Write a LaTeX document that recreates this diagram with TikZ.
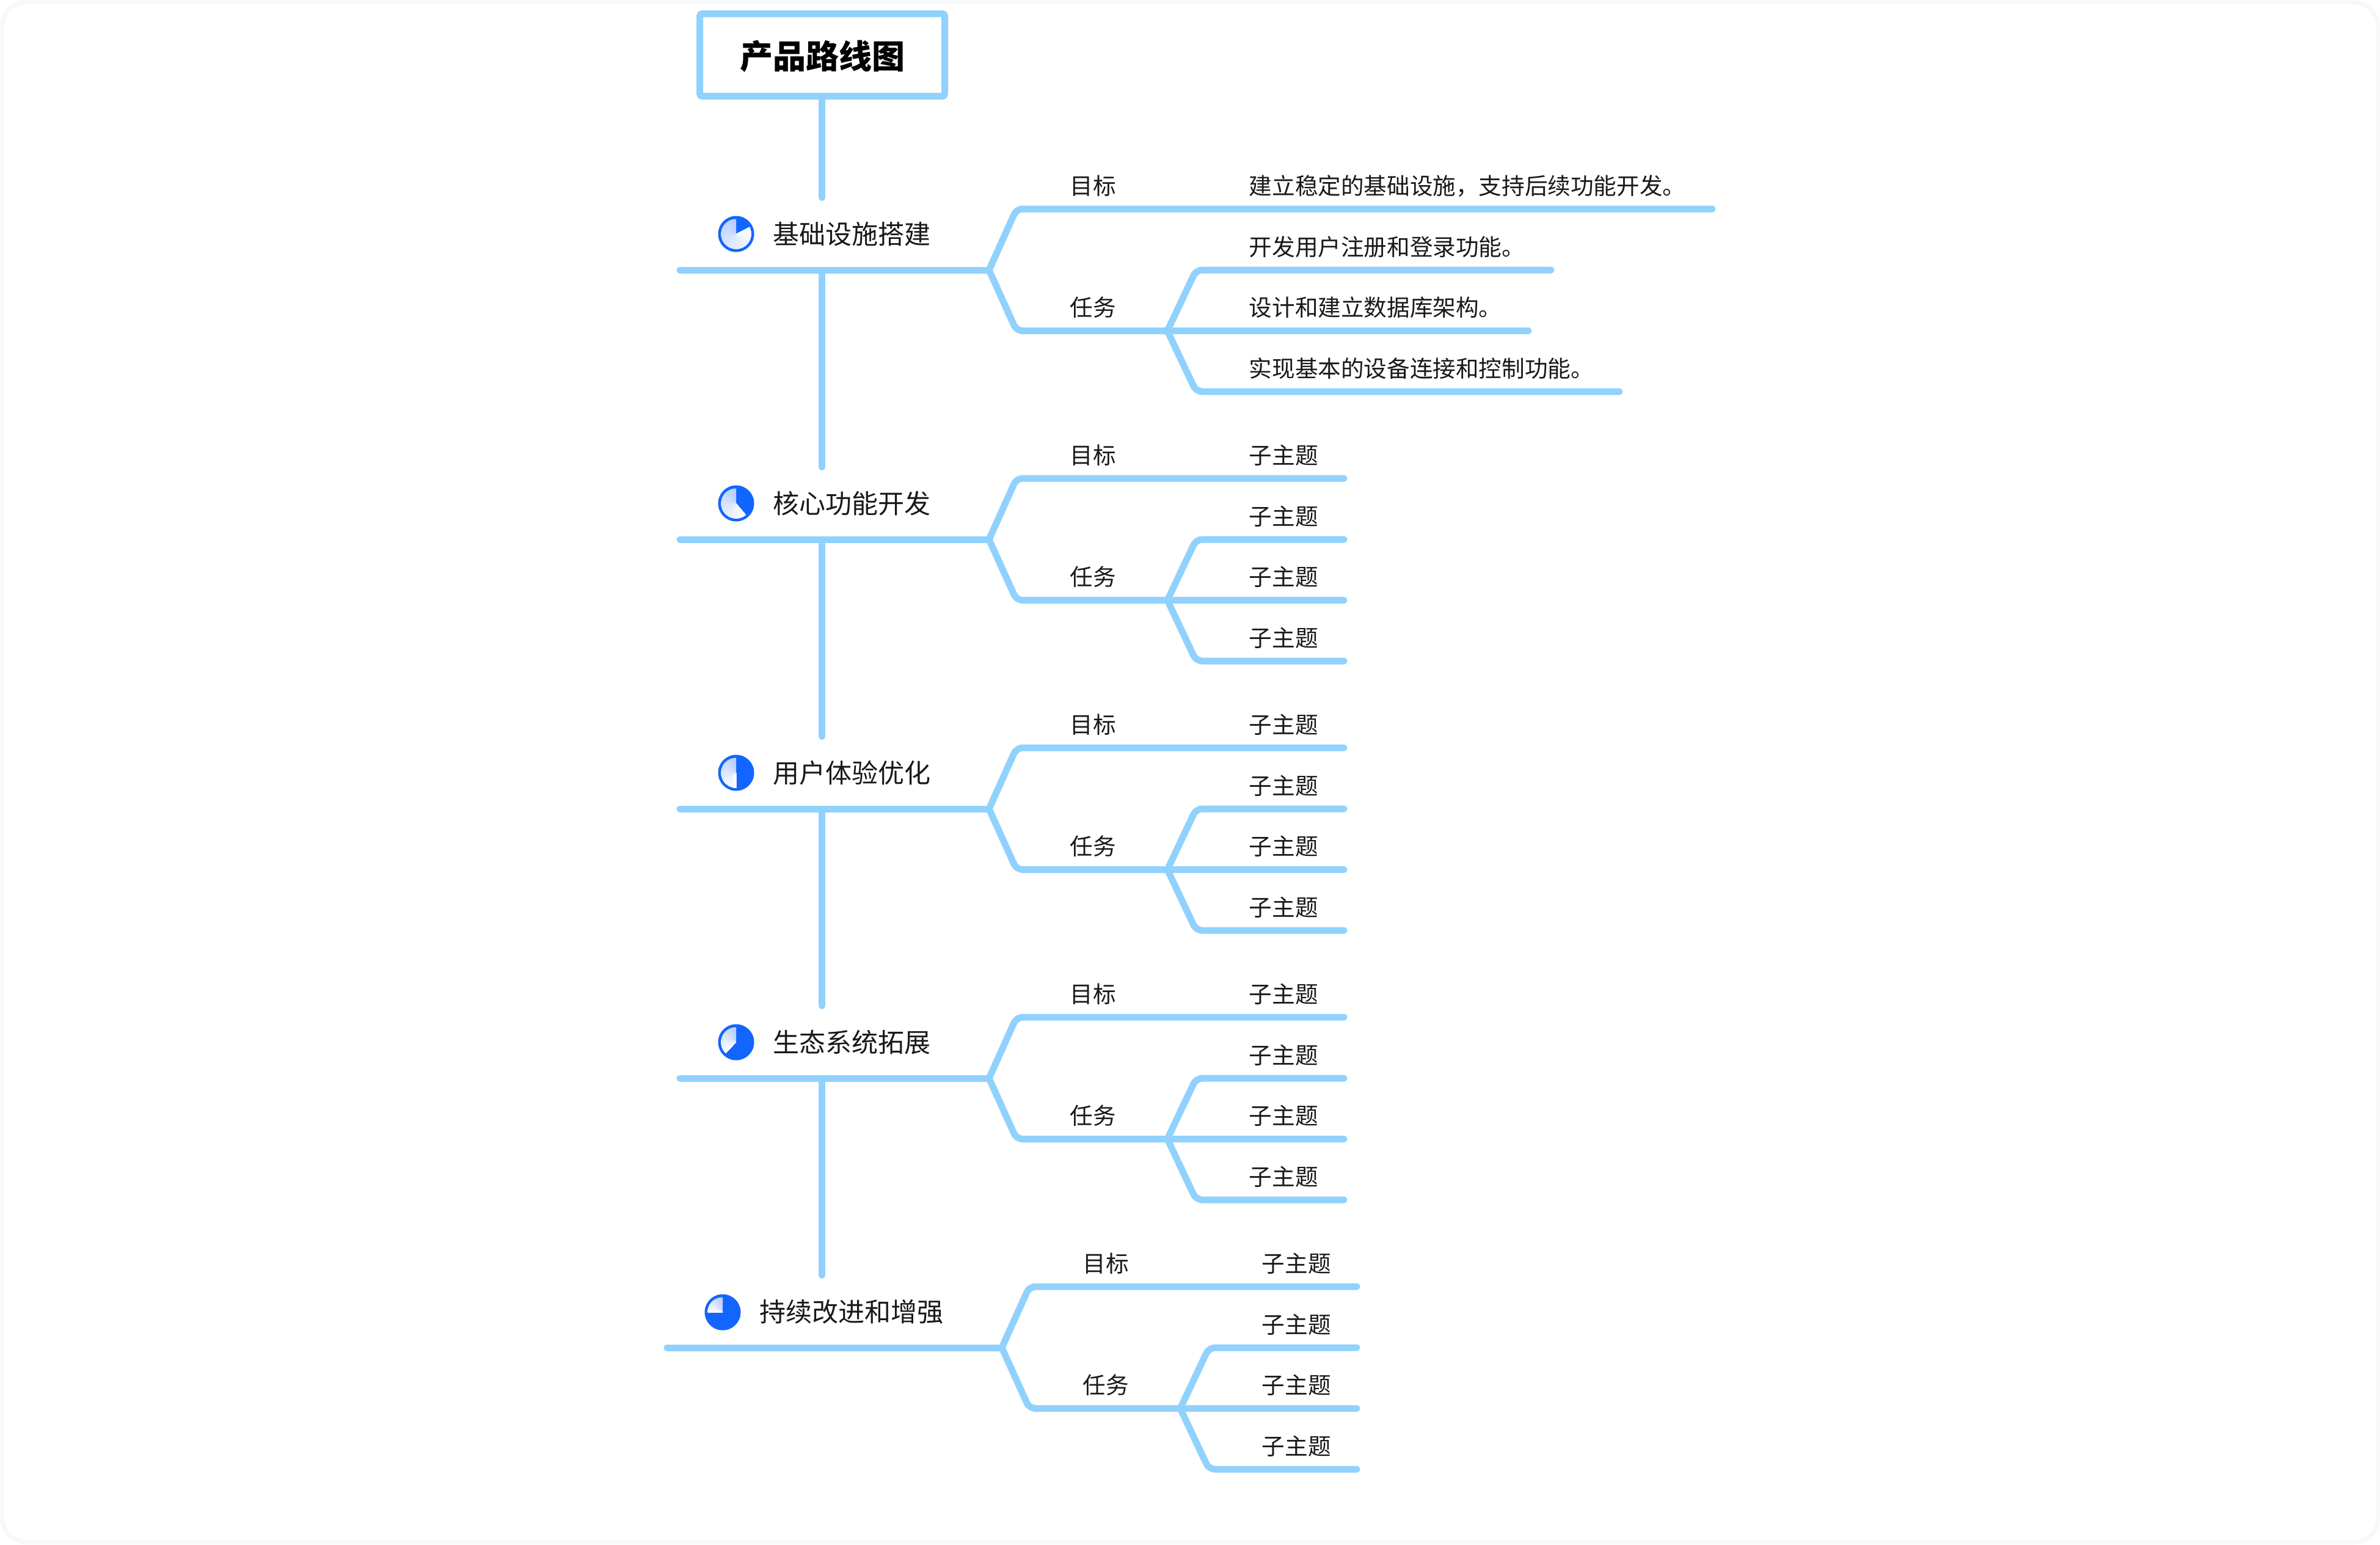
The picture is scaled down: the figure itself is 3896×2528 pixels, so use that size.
\documentclass[tikz,border=0pt]{standalone}
\usepackage{fontspec}
\setmainfont{Noto Sans CJK SC}
\definecolor{linkblue}{HTML}{90D2FD}
\definecolor{pieblue}{HTML}{1266FF}
\definecolor{piedark}{HTML}{BAD0FB}
\definecolor{framegray}{HTML}{F7F8FA}
\tikzset{
  link/.style={draw=linkblue,line width=2.75pt,line cap=round,rounded corners=2.5pt},
  stem/.style={draw=linkblue,line width=2.75pt,line cap=round},
  txt/.style={inner sep=0pt,text height=.88em,text depth=.12em,font=\fontsize{9.4pt}{9.4pt}\selectfont,text=black!90},
  midtxt/.style={txt,anchor=center},
  lefttxt/.style={txt,anchor=west},
  headtxt/.style={inner sep=0pt,text height=.88em,text depth=.12em,font=\fontsize{10.75pt}{10.75pt}\selectfont,text=black!90,anchor=center},
  titlebox/.style={draw=linkblue,line width=2.75pt,rounded corners=1pt,minimum width=100.25pt,minimum height=33.75pt,inner sep=0pt,font=\bfseries\fontsize{13.5pt}{13.5pt}\selectfont,text=black}
}
% pie marker: x, y, end angle of the light wedge (swept from 90 counterclockwise)
\newcommand{\piemark}[3]{%
  \begin{scope}[shift={(#1,#2)},x=0.25pt,y=0.25pt]
    \fill[pieblue] (0,0) circle[radius=29.5];
    \foreach \i in {0,...,24}{
      \pgfmathsetmacro{\sa}{90+\i/25*(#3-90)}
      \pgfmathsetmacro{\mixv}{100-\i*4}
      \fill[piedark!\mixv!white] (0,0) -- (\sa:24.5) arc[start angle=\sa,end angle=#3,radius=24.5] -- cycle;
    }
  \end{scope}}
% group: id, main-line y, dx, four leaf texts; line ends in \eA..\eD
\newcommand{\branchgroup}[8]{%
  \pgfmathsetmacro{\yy}{#2}
  \pgfmathsetmacro{\dd}{#3}
  \coordinate (#1L) at ({1113-\dd},\yy);
  \coordinate (#1H) at ({1619+\dd},\yy);
  \coordinate (#1S) at (1345.5,\yy);
  \coordinate (#1GB) at ({1664+\dd},{\yy-100});
  \coordinate (#1GE) at ({\eA+\dd},{\yy-100});
  \coordinate (#1KB) at ({1664+\dd},{\yy+99.5});
  \coordinate (#1KH) at ({1911+\dd},{\yy+99.5});
  \coordinate (#1AB) at ({1958+\dd},\yy);
  \coordinate (#1AE) at ({\eB+\dd},\yy);
  \coordinate (#1BE) at ({\eC+\dd},{\yy+99.5});
  \coordinate (#1CB) at ({1958+\dd},{\yy+199});
  \coordinate (#1CE) at ({\eD+\dd},{\yy+199});
  \node[headtxt] (#1head) at (1394,{\yy-57.5}) {#8};
  \node[midtxt] (#1goal) at ({1789+\dd},{\yy-139}) {目标};
  \node[midtxt] (#1task) at ({1789+\dd},{\yy+60.5}) {任务};
  \node[lefttxt] (#1leafG) at ({2044+\dd},{\yy-139}) {#4};
  \node[lefttxt] (#1leafA) at ({2044+\dd},{\yy-38.5}) {#5};
  \node[lefttxt] (#1leafB) at ({2044+\dd},{\yy+60.5}) {#6};
  \node[lefttxt] (#1leafC) at ({2044+\dd},{\yy+160.5}) {#7};
  \draw[link] (#1L) -- (#1H);
  \draw[link] (#1H) -- (#1GB) -- (#1GE);
  \draw[link] (#1H) -- (#1KB) -- (#1KH);
  \draw[link] (#1KH) -- (#1AB) -- (#1AE);
  \draw[link] (#1KH) -- (#1BE);
  \draw[link] (#1KH) -- (#1CB) -- (#1CE);
}
\begin{document}
\begin{tikzpicture}[x=0.25pt,y=-0.25pt]
\useasboundingbox (0,0) rectangle (3896,2528);
\fill[white] (0,0) rectangle (3896,2528);
\draw[framegray,line width=1.75pt,fill=white,rounded corners=10pt] (3.5,3.5) rectangle (3892.5,2524.5);

\node[titlebox] (title) at (1346,90) {\raisebox{-0.5pt}[.88em][.12em]{产品路线图}};

\def\eA{2803}\def\eB{2539}\def\eC{2502}\def\eD{2651}
\branchgroup{a}{442}{0}{建立稳定的基础设施，支持后续功能开发。}{开发用户注册和登录功能。}{设计和建立数据库架构。}{实现基本的设备连接和控制功能。}{基础设施搭建}
\def\eA{2200}\def\eB{2200}\def\eC{2200}\def\eD{2200}
\branchgroup{b}{883}{0}{子主题}{子主题}{子主题}{子主题}{核心功能开发}
\branchgroup{c}{1324}{0}{子主题}{子主题}{子主题}{子主题}{用户体验优化}
\branchgroup{d}{1765}{0}{子主题}{子主题}{子主题}{子主题}{生态系统拓展}
\branchgroup{e}{2206}{21}{子主题}{子主题}{子主题}{子主题}{持续改进和增强}

\coordinate (stemA) at (1345.5,323.5);
\coordinate (stemB) at (1345.5,764.5);
\coordinate (stemC) at (1345.5,1205.5);
\coordinate (stemD) at (1345.5,1646.5);
\coordinate (stemE) at (1345.5,2087.5);
\draw[stem] (title.south -| stemA) -- (stemA);
\draw[stem] (aS) -- (stemB);
\draw[stem] (bS) -- (stemC);
\draw[stem] (cS) -- (stemD);
\draw[stem] (dS) -- (stemE);

\piemark{1205}{383}{387}
\piemark{1205}{824}{310}
\piemark{1205}{1265}{270}
\piemark{1205}{1706}{226}
\piemark{1183}{2148}{180}
\end{tikzpicture}
\end{document}
